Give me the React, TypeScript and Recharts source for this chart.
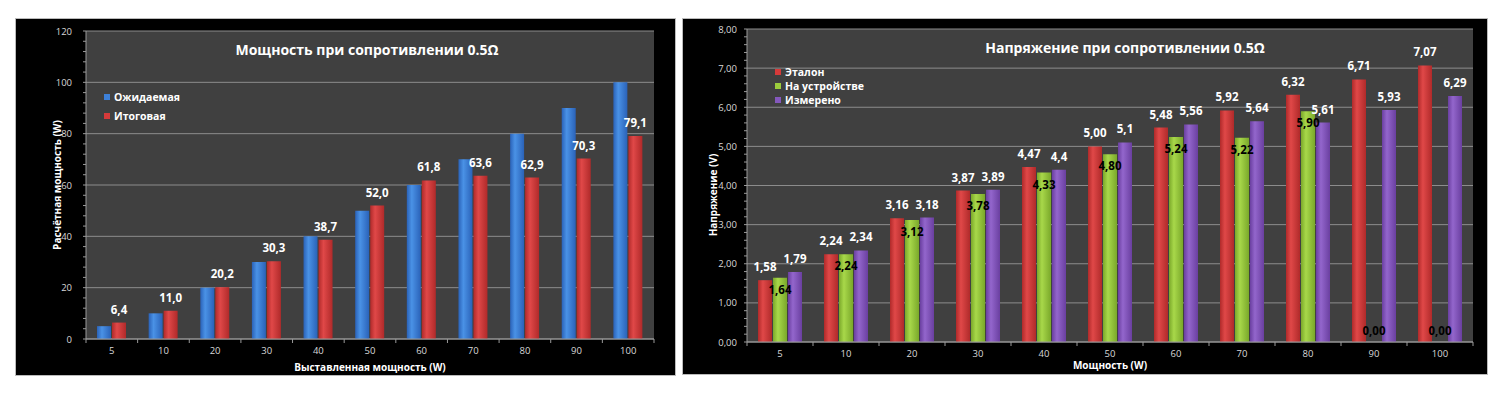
import React from 'react';
import { Bar, BarChart, CartesianGrid, Cell, LabelList, XAxis, YAxis, Label } from 'recharts';

// левый график: мощность
const powerCats = ['5', '10', '20', '30', '40', '50', '60', '70', '80', '90', '100'];
const expected = [5, 10, 20, 30, 40, 50, 60, 70, 80, 90, 100];
const resulting = [6.4, 11.0, 20.2, 30.3, 38.7, 52.0, 61.8, 63.6, 62.9, 70.3, 79.1];
const powerMajor = [0, 20, 40, 60, 80, 100, 120];

// правый график: напряжение
const voltCats = ['5', '10', '20', '30', '40', '50', '60', '70', '80', '90', '100'];
const etalon = [1.58, 2.24, 3.16, 3.87, 4.47, 5.0, 5.48, 5.92, 6.32, 6.71, 7.07];
const onDevice = [1.64, 2.24, 3.12, 3.78, 4.33, 4.8, 5.24, 5.22, 5.9, 0, 0];
const measured = [1.79, 2.34, 3.18, 3.89, 4.4, 5.1, 5.56, 5.64, 5.61, 5.93, 6.29];
const voltMajor = [0, 1, 2, 3, 4, 5, 6, 7, 8];

const powerData = powerCats.map((c, i) => ({ cat: c, exp: expected[i], res: resulting[i] }));
const voltData = voltCats.map((c, i) => ({ cat: c, et: etalon[i], dev: onDevice[i], meas: measured[i] }));

const powerTicks = Array.from({ length: 31 }, (_, i) => i * 4);
const voltTicks = Array.from({ length: 41 }, (_, i) => Math.round(i * 2) / 10);

const FONT = '"Open Sans", "Noto Sans", sans-serif';
const GRID = '#8c8c8c';
const AXIS = '#9a9a9a';
const TICK_TXT = '#d8d8d8';

const comma = (s: string) => s.replace('.', ',');

function Gradients() {
  const g = (id: string, edge: string, mid: string) => (
    <linearGradient id={id} x1='0' y1='0' x2='1' y2='0'>
      <stop offset='0%' stopColor={edge} />
      <stop offset='35%' stopColor={mid} />
      <stop offset='100%' stopColor={edge} />
    </linearGradient>
  );
  return (
    <defs>
      {g('gBlue', '#2a62b8', '#4a92e6')}
      {g('gRed', '#b02a2a', '#e04848')}
      {g('gGreen', '#7aa82a', '#a8d84a')}
      {g('gPurple', '#6a3fa0', '#9366cc')}
    </defs>
  );
}

function makeYTick(isMajor: (v: number) => boolean, fmt: (v: number) => string) {
  return (props: any) => {
    const { x, y, payload } = props;
    if (!isMajor(payload.value)) return <g />;
    return (
      <text x={x} y={y} dy={3.5} textAnchor='end' fill={TICK_TXT} fontSize={9.5} fontFamily={FONT}>
        {fmt(payload.value)}
      </text>
    );
  };
}

function makeXTick(count: number, half: number) {
  return (props: any) => {
    const { x, y, payload, index } = props;
    const off = payload.offset ?? half;
    return (
      <g>
        <line x1={x - off} x2={x - off} y1={y} y2={y + 4} stroke={AXIS} />
        {index === count - 1 && <line x1={x + off} x2={x + off} y1={y} y2={y + 4} stroke={AXIS} />}
        <text x={x} y={y} dy={15} textAnchor='middle' fill={TICK_TXT} fontSize={9.5} fontFamily={FONT}>
          {payload.value}
        </text>
      </g>
    );
  };
}

function LegendBox({ items, rowH, left, top }: { items: { name: string; color: string }[]; rowH: number; left: number; top: number }) {
  return (
    <div style={{ position: 'absolute', left, top, zIndex: 2, fontFamily: FONT, fontWeight: 700, fontSize: 10.5, color: '#fff' }}>
      {items.map((it) => (
        <div key={it.name} style={{ display: 'flex', alignItems: 'center', height: rowH }}>
          <span style={{ width: 6, height: 6, background: it.color, marginRight: 4, display: 'inline-block' }} />
          {it.name}
        </div>
      ))}
    </div>
  );
}

const topLabel = (fmt: (v: number) => string, color: string, dy: number) => (props: any) => {
  const { x, y, width, value } = props;
  return (
    <text x={x + width / 2} y={y} dy={dy} textAnchor='middle' fill={color} fontSize={11.5} fontWeight={700} fontFamily={FONT}>
      {fmt(value)}
    </text>
  );
};

const deviceLabel = (props: any) => {
  const { x, y, width, value } = props;
  const yy = value === 0 ? y - 6 : y + 16;
  return (
    <text x={x + width / 2} y={yy} textAnchor='middle' fill='#000' fontSize={11.5} fontWeight={700} fontFamily={FONT}>
      {comma(Number(value).toFixed(2))}
    </text>
  );
};

function PowerChart() {
  return (
    <div style={{ position: 'absolute', left: 16, top: 19, width: 659, height: 356, background: '#000', outline: '1px solid #bbb' }}>
      <div style={{ position: 'absolute', left: 0, width: 702, top: 21, textAlign: 'center', color: '#fff', fontFamily: FONT, fontWeight: 700, fontSize: 14, zIndex: 2 }}>
        Мощность при сопротивлении 0.5Ω
      </div>
      <LegendBox left={88} top={68} rowH={19} items={[{ name: 'Ожидаемая', color: '#3d80d8' }, { name: 'Итоговая', color: '#d63a3a' }]} />
      <BarChart width={659} height={356} data={powerData} margin={{ top: 12, right: 21, left: 30, bottom: 0 }} barSize={14} barGap={1}>
        <Gradients />
        <CartesianGrid vertical={false} horizontalValues={powerMajor} stroke={GRID} fill='#404040' fillOpacity={1} />
        <XAxis dataKey='cat' height={36} axisLine={{ stroke: AXIS }} tickLine={false} tickSize={0} tickMargin={0} tick={makeXTick(11, 25.8)} interval={0}>
          <Label content={() => (
            <text x={354} y={352} textAnchor='middle' fill='#fff' fontSize={10} fontWeight={700} fontFamily={FONT}>Выставленная мощность (W)</text>
          )} />
        </XAxis>
        <YAxis width={40} domain={[0, 120]} ticks={powerTicks} interval={0} axisLine={{ stroke: AXIS }} tickLine={{ stroke: AXIS }} tickSize={3} tickMargin={11}
          tick={makeYTick((v) => v % 20 === 0, (v) => String(v))}>
          <Label content={() => (
            <text x={45} y={166} transform='rotate(-90 45 166)' textAnchor='middle' fill='#fff' fontSize={10} fontWeight={700} fontFamily={FONT}>Расчётная мощность (W)</text>
          )} />
        </YAxis>
        <Bar dataKey='exp' name='Ожидаемая' fill='url(#gBlue)' isAnimationActive={false} />
        <Bar dataKey='res' name='Итоговая' fill='url(#gRed)' isAnimationActive={false}>
          <LabelList dataKey='res' content={topLabel((v) => comma(v.toFixed(1)), '#fff', -9)} />
        </Bar>
      </BarChart>
    </div>
  );
}

function VoltageChart() {
  return (
    <div style={{ position: 'absolute', left: 683, top: 19, width: 804, height: 355, background: '#000', outline: '1px solid #bbb' }}>
      <div style={{ position: 'absolute', left: 0, width: 884, top: 19, textAlign: 'center', color: '#fff', fontFamily: FONT, fontWeight: 700, fontSize: 14, zIndex: 2 }}>
        Напряжение при сопротивлении 0.5Ω
      </div>
      <LegendBox left={92} top={46} rowH={14} items={[{ name: 'Эталон', color: '#d63a3a' }, { name: 'На устройстве', color: '#9ccc3c' }, { name: 'Измерено', color: '#8458bc' }]} />
      <BarChart width={804} height={355} data={voltData} margin={{ top: 10, right: 14, left: 24, bottom: 0 }} barSize={14} barGap={1}>
        <Gradients />
        <CartesianGrid vertical={false} horizontalValues={voltMajor} stroke={GRID} fill='#404040' fillOpacity={1} />
        <XAxis dataKey='cat' height={32} axisLine={{ stroke: AXIS }} tickLine={false} tickSize={0} tickMargin={0} tick={makeXTick(11, 33)} interval={0}>
          <Label content={() => (
            <text x={427} y={350} textAnchor='middle' fill='#fff' fontSize={10} fontWeight={700} fontFamily={FONT}>Мощность (W)</text>
          )} />
        </XAxis>
        <YAxis width={40} domain={[0, 8]} ticks={voltTicks} interval={0} axisLine={{ stroke: AXIS }} tickLine={{ stroke: AXIS }} tickSize={3} tickMargin={7}
          tick={makeYTick((v) => Math.abs(v - Math.round(v)) < 1e-6, (v) => comma(v.toFixed(2)))}>
          <Label content={() => (
            <text x={34} y={176} transform='rotate(-90 34 176)' textAnchor='middle' fill='#fff' fontSize={10} fontWeight={700} fontFamily={FONT}>Напряжение (V)</text>
          )} />
        </YAxis>
        <Bar dataKey='et' name='Эталон' fill='url(#gRed)' isAnimationActive={false}>
          <LabelList dataKey='et' content={topLabel((v) => comma(v.toFixed(2)), '#fff', -9)} />
        </Bar>
        <Bar dataKey='dev' name='На устройстве' fill='url(#gGreen)' minPointSize={1} isAnimationActive={false}>
          {voltData.map((d, i) => (
            <Cell key={i} fill={d.dev === 0 ? 'transparent' : 'url(#gGreen)'} />
          ))}
          <LabelList dataKey='dev' content={deviceLabel} />
        </Bar>
        <Bar dataKey='meas' name='Измерено' fill='url(#gPurple)' isAnimationActive={false}>
          <LabelList dataKey='meas' content={topLabel((v) => comma(String(v)), '#fff', -9)} />
        </Bar>
      </BarChart>
    </div>
  );
}

export default function App() {
  return (
    <div style={{ position: 'absolute', left: 0, top: 0, width: 1500, height: 395, background: '#fff', overflow: 'hidden' }}>
      <PowerChart />
      <VoltageChart />
    </div>
  );
}
